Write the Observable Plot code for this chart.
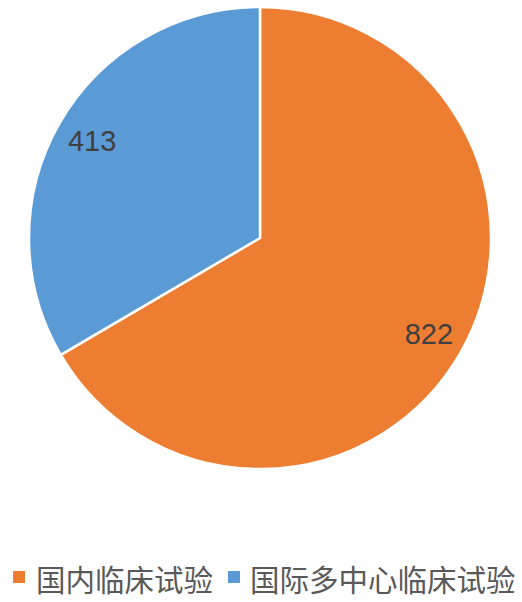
<!DOCTYPE html>
<html><head><meta charset="utf-8">
<script src="https://cdn.jsdelivr.net/npm/d3@7"></script>
<script src="https://cdn.jsdelivr.net/npm/@observablehq/plot@0.6"></script>
<style>
body{margin:0;background:#fff;width:522px;height:602px;overflow:hidden;position:relative;}
#legend{position:absolute;left:0;top:558px;width:522px;font-family:"Noto Sans CJK SC",sans-serif;font-size:29.5px;color:#595959;white-space:nowrap;}
.item{position:absolute;top:0;line-height:40px;}
.sw{position:absolute;width:12px;height:12px;top:13px;}
</style></head><body>
<div id="chart"></div>
<div id="legend"></div>
<script>
const categories = ["国内临床试验", "国际多中心临床试验"];
const values = [822, 413];
const colors = ["#ED7D31", "#5B9BD5"];

const data = categories.map((c, i) => ({category: c, value: values[i]}));
const arcs = d3.pie().sort(null).value(d => d.value)(data);
const labelR = 0.84;
const labelData = arcs.map(a => {
  const m = (a.startAngle + a.endAngle) / 2;
  return {x: labelR * Math.sin(m), y: labelR * Math.cos(m), text: String(a.data.value)};
});

function pieMark(index, scales, values_, dims) {
  const cx = scales.x(0), cy = scales.y(0);
  const r = (scales.x(1) - scales.x(-1)) / 2;
  const arc = d3.arc().innerRadius(0).outerRadius(r);
  const g = d3.create("svg:g").attr("transform", `translate(${cx},${cy})`);
  g.selectAll("path").data(arcs).join("path")
    .attr("d", arc)
    .attr("fill", (d, i) => scales.color(d.data.category))
    .attr("stroke", "#fff").attr("stroke-width", 2.5).attr("stroke-linejoin", "round");
  return g.node();
}

const plot = Plot.plot({
  width: 522, height: 545,
  marginLeft: 29, marginRight: 31, marginTop: 7, marginBottom: 76,
  x: {domain: [-1, 1], axis: null},
  y: {domain: [-1, 1], axis: null},
  color: {domain: categories, range: colors},
  style: {background: "#fff"},
  marks: [
    pieMark,
    Plot.text(labelData, {x: "x", y: "y", text: "text", fontSize: 29, fill: "#404040",
      fontFamily: "Liberation Sans, Arial, sans-serif"})
  ]
});
document.getElementById("chart").appendChild(plot);

const legend = document.getElementById("legend");
const lefts = [[13, 36], [228, 250]];
categories.forEach((c, i) => {
  const sw = document.createElement("div");
  sw.className = "sw"; sw.style.left = lefts[i][0] + "px"; sw.style.background = colors[i];
  const t = document.createElement("div");
  t.className = "item"; t.style.left = lefts[i][1] + "px"; t.textContent = c;
  legend.appendChild(sw); legend.appendChild(t);
});
</script>
</body></html>
